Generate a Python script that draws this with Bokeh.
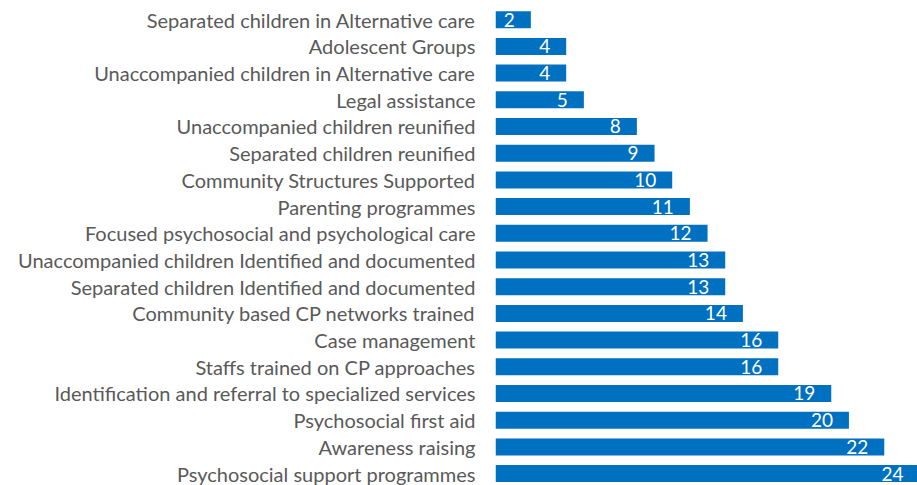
from bokeh.plotting import figure
from bokeh.models import ColumnDataSource, Range1d, FixedTicker, LabelSet
from bokeh.core.properties import value
from bokeh.embed import file_html
from bokeh.resources import INLINE

categories = [
    "Separated children in Alternative care",
    "Adolescent Groups",
    "Unaccompanied children in Alternative care",
    "Legal assistance",
    "Unaccompanied children reunified",
    "Separated children reunified",
    "Community Structures Supported",
    "Parenting programmes",
    "Focused psychosocial and psychological care",
    "Unaccompanied children Identified and documented",
    "Separated children Identified and documented",
    "Community based CP networks trained",
    "Case management",
    "Staffs trained on CP approaches",
    "Identification and referral to specialized services",
    "Psychosocial first aid",
    "Awareness raising",
    "Psychosocial support programmes",
]
values = [2, 4, 4, 5, 8, 9, 10, 11, 12, 13, 13, 14, 16, 16, 19, 20, 22, 24]

n = len(categories)
ypos = [n - 1 - i for i in range(n)]
src = ColumnDataSource(dict(y=ypos, v=values, lab=[str(v) for v in values]))

FONT = "Lato"
p = figure(width=917, height=485, output_backend="svg", toolbar_location=None,
           x_range=Range1d(0, 23.88), y_range=Range1d(-0.446, 17.719),
           min_border_left=495, min_border_right=0, min_border_top=0, min_border_bottom=0)
p.hbar(y="y", right="v", left=0, height=0.637, source=src, color="#0070C0", line_color=None)

labels = LabelSet(x="v", y="y", text="lab", source=src, text_align="right", text_baseline="middle",
                  x_offset=-16, y_offset=0, text_color="white", text_font=value(FONT),
                  text_font_size=value("19px"))
p.add_layout(labels)

p.xaxis.visible = False
p.yaxis.ticker = FixedTicker(ticks=ypos)
p.yaxis.major_label_overrides = {int(y): c for y, c in zip(ypos, categories)}
p.yaxis.axis_line_color = None
p.yaxis.major_tick_line_color = None
p.yaxis.minor_tick_line_color = None
p.yaxis.major_tick_out = 0
p.yaxis.major_tick_in = 0
p.yaxis.major_label_standoff = 20
p.yaxis.major_label_text_font = FONT
p.yaxis.major_label_text_font_size = "20px"
p.yaxis.major_label_text_color = "#595959"
p.xgrid.visible = False
p.ygrid.visible = False
p.outline_line_color = None

open("out.html", "w").write(file_html(p, INLINE))
